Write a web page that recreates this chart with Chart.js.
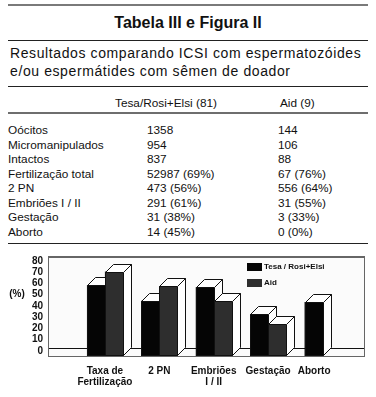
<!DOCTYPE html>
<html>
<head>
<meta charset="utf-8">
<script src="https://cdn.jsdelivr.net/npm/chart.js@4/dist/chart.umd.min.js"></script>
<style>
  html, body { margin: 0; padding: 0; background: #fff; }
  body { width: 376px; height: 397px; position: relative; overflow: hidden;
         font-family: "Liberation Sans", Arial, sans-serif; color: #111; }
  .rule { position: absolute; left: 8px; width: 360px; }
  .txt { position: absolute; white-space: nowrap; }
  #chartBox { position: absolute; left: 0; top: 245px; width: 376px; height: 152px; }
</style>
</head>
<body>
<div class="rule" style="top:4px;height:2px;background:#7a7a7a"></div>
<div class="txt" style="left:0;width:376px;text-align:center;top:12px;line-height:21px;font-size:16px;font-weight:bold">Tabela III e Figura II</div>
<div class="rule" style="top:40px;height:1px;background:#222"></div>
<div class="txt" id="sub1" style="left:10px;top:44px;line-height:18px;font-size:14px;letter-spacing:0.6px">Resultados comparando ICSI com espermatozóides</div>
<div class="txt" id="sub2" style="left:10px;top:62px;line-height:18px;font-size:14px;letter-spacing:0.6px">e/ou espermátides com sêmen de doador</div>
<div class="rule" style="top:86px;height:1px;background:#222"></div>
<div id="table"></div>
<div class="rule" style="top:112px;height:2px;background:#6e6e6e"></div>
<div class="rule" style="top:243px;height:1px;background:#222"></div>
<div id="chartBox"><canvas id="figChart"></canvas></div>

<script>
// ------------------ Table data ------------------
const headerCols = ["Tesa/Rosi+Elsi (81)", "Aid (9)"];
const rowLabels = ["Oócitos", "Micromanipulados", "Intactos", "Fertilização total", "2 PN", "Embriões I / II", "Gestação", "Aborto"];
const tesaCells = ["1358", "954", "837", "52987 (69%)", "473 (56%)", "291 (61%)", "31 (38%)", "14 (45%)"];
const aidCells = ["144", "106", "88", "67 (76%)", "556 (64%)", "31 (55%)", "3 (33%)", "0 (0%)"];

// ------------------ Chart data ------------------
const categories = [["Taxa de", "Fertilização"], "2 PN", ["Embriões", "I / II"], "Gestação", "Aborto"];
const seriesNames = ["Tesa / Rosi+Elsi", "Aid"];
const tesaValues = [63, 49, 61, 37, 48];
const aidValues = [75, 62, 49, 28, 0];
const yTickValues = [0, 10, 20, 30, 40, 50, 60, 70, 80];

// build the table rows as plain text blocks
function addText(text, left, centerY) {
    const d = document.createElement("div");
    d.className = "txt";
    d.textContent = text;
    d.style.left = left + "px";
    d.style.top = (centerY - 8) + "px";
    d.style.lineHeight = "16px";
    d.style.fontSize = "11.8px";
    document.getElementById("table").appendChild(d);
}
addText(headerCols[0], 115, 103);
addText(headerCols[1], 280, 103);
rowLabels.forEach((label, i) => {
    const cy = 130 + i * 14.55;
    addText(label, 8, cy);
    addText(tesaCells[i], 147, cy);
    addText(aidCells[i], 278, cy);
});

// ------------------ 3D bar look ------------------
const DEPTH = 8;

const frame3d = {
    id: "frame3d",
    beforeDatasetsDraw(chart) {
        const { ctx, chartArea: a } = chart;
        ctx.save();
        ctx.fillStyle = "#fbfbfb";
        ctx.fillRect(a.left, a.top, a.right - a.left, a.bottom - a.top);
        // floor back edge
        ctx.strokeStyle = "#111";
        ctx.lineWidth = 1;
        ctx.beginPath();
        ctx.moveTo(a.left, a.bottom - DEPTH + 0.5);
        ctx.lineTo(a.right, a.bottom - DEPTH + 0.5);
        ctx.stroke();
        ctx.restore();
    },
    afterDatasetsDraw(chart) {
        const { ctx, chartArea: a } = chart;
        const d = DEPTH;
        ctx.save();
        ctx.lineWidth = 1;
        ctx.strokeStyle = "#111";
        const n = chart.data.labels.length;
        for (let i = 0; i < n; i++) {
            chart.data.datasets.forEach((ds, di) => {
                const bar = chart.getDatasetMeta(di).data[i];
                const h = bar.base - bar.y;
                if (h < 0.5) return;
                const l = Math.round(bar.x - bar.width / 2) + 0.5;
                const r = Math.round(bar.x + bar.width / 2) + 0.5;
                const t = Math.round(bar.y) + 0.5;
                const b = Math.round(bar.base) - 0.5;
                // front face
                ctx.fillStyle = ds.backgroundColor;
                ctx.fillRect(l, t, r - l, b - t);
                ctx.strokeRect(l, t, r - l, b - t);
                // top face
                ctx.fillStyle = "#fff";
                ctx.beginPath();
                ctx.moveTo(l, t);
                ctx.lineTo(l + d, t - d);
                ctx.lineTo(r + d, t - d);
                ctx.lineTo(r, t);
                ctx.closePath();
                ctx.fill();
                ctx.stroke();
                // side face
                ctx.beginPath();
                ctx.moveTo(r, t);
                ctx.lineTo(r + d, t - d);
                ctx.lineTo(r + d, b - d);
                ctx.lineTo(r, b);
                ctx.closePath();
                ctx.fill();
                ctx.stroke();
            });
        }
        // plot frame
        ctx.strokeStyle = "#666";
        ctx.strokeRect(a.left + 0.5, a.top + 0.5, a.right - a.left - 1, a.bottom - a.top);
        ctx.beginPath();
        ctx.moveTo(a.left, a.top + 1.5);
        ctx.lineTo(a.right, a.top + 1.5);
        ctx.stroke();
        ctx.restore();
    },
    afterDraw(chart) {
        const { ctx, chartArea: a, scales } = chart;
        ctx.save();
        // "(%)" axis caption next to the 50 tick
        ctx.font = "bold 10px 'Liberation Sans', Arial";
        ctx.fillStyle = "#111";
        ctx.textAlign = "center";
        ctx.textBaseline = "middle";
        ctx.fillText("(%)", 17, scales.y.getPixelForValue(50) - 5);
        // legend inside the plot, upper right
        ctx.font = "bold 8px 'Liberation Sans', Arial";
        ctx.textAlign = "left";
        chart.data.datasets.forEach((ds, di) => {
            const y = a.top + 11 + di * 16;
            ctx.fillStyle = ds.backgroundColor;
            ctx.fillRect(247, y - 4, 15, 8);
            ctx.fillStyle = "#111";
            ctx.fillText(ds.label, 264, y);
        });
        ctx.restore();
    }
};

// ------------------ Render ------------------
function renderFigure() {
    new Chart(document.getElementById("figChart"), {
        type: "bar",
        data: {
            labels: categories.map((c, i) => i),
            datasets: [{
                label: seriesNames[0],
                data: tesaValues,
                backgroundColor: "#050505",
                categoryPercentage: 0.66,
                barPercentage: 1.0
            },
            {
                label: seriesNames[1],
                data: aidValues,
                backgroundColor: "#2e2e2e",
                categoryPercentage: 0.66,
                barPercentage: 1.0
            }]
        },
        options: {
            responsive: true,
            maintainAspectRatio: false,
            animation: false,
            layout: { padding: { top: 7, right: 11, left: 0, bottom: 0 } },
            plugins: {
                legend: { display: false },
                tooltip: { enabled: false }
            },
            scales: {
                x: {
                    type: "linear",
                    min: -0.4632,
                    max: 4.1985,
                    grid: { display: false, drawTicks: false },
                    border: { display: false },
                    afterFit: (scale) => { scale.height = 41; },
                    ticks: {
                        stepSize: 1,
                        includeBounds: false,
                        maxRotation: 0,
                        autoSkip: false,
                        padding: 10,
                        color: "#111",
                        font: { family: "'Liberation Sans', Arial", size: 10, weight: "bold", lineHeight: 1.1 },
                        callback: function(value) {
                            if (!Number.isInteger(value)) return "";
                            // the last label sits under its single bar, nudge it left with padding
                            return value === 4 ? categories[value] + "      " : categories[value];
                        }
                    }
                },
                y: {
                    min: 0,
                    max: 88.8,
                    grid: { display: false, drawTicks: false },
                    border: { display: false },
                    afterFit: (scale) => { scale.width = 48; },
                    ticks: {
                        stepSize: 10,
                        includeBounds: false,
                        autoSkip: false,
                        padding: 5,
                        labelOffset: -5,
                        color: "#111",
                        font: { family: "'Liberation Sans', Arial", size: 10, weight: "bold" },
                        callback: (value) => yTickValues.includes(value) ? value : ""
                    }
                }
            }
        },
        plugins: [frame3d]
    });
}

document.addEventListener("DOMContentLoaded", () => {
    renderFigure();
});
</script>
</body>
</html>
